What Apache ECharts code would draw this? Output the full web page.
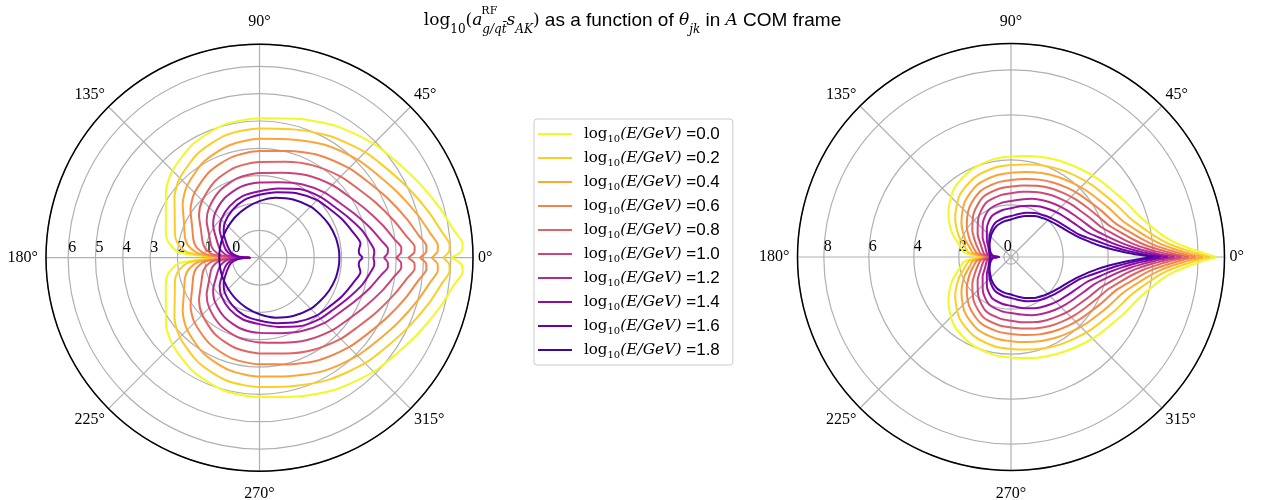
<!DOCTYPE html>
<html><head><meta charset="utf-8">
<script src="https://cdn.jsdelivr.net/npm/echarts@6/dist/echarts.min.js"></script>
<style>html,body{margin:0;padding:0;background:#fff}#c{width:1265px;height:500px}</style>
</head><body><div id="c"></div>
<script>
// ---- data ----
const energyLabels = ['0.0','0.2','0.4','0.6','0.8','1.0','1.2','1.4','1.6','1.8'];
const curveColors = ['#f0f921','#fcce25','#fca636','#f2844b','#e16462','#cc4778','#b12a90','#8f0da4','#6a00a8','#41049d'];

// left panel: theta (deg, upper half; curves are mirror-symmetric) and radius values
const leftAngles = [0,1,2,4,8,15,25,35,45,60,75,90,105,120,135,145,155,165,170,174,176,178,179,180];
const leftR00 = [6.0,6.25,6.4,6.45,6.18,5.86,5.45,5.12,4.9,4.57,4.26,4.10,4.03,3.82,3.50,3.18,2.78,2.55,2.40,2.15,1.98,1.3,0.3,-0.65];
const leftR02 = [5.72,5.85,5.95,5.97,5.74,5.42,5.01,4.68,4.46,4.14,3.86,3.73,3.65,3.44,3.12,2.80,2.42,2.2,2.04,1.8,1.6,1.0,0.2,-0.65];
const leftR04 = [5.3,5.42,5.52,5.54,5.32,5.0,4.6,4.28,4.07,3.77,3.48,3.35,3.26,3.06,2.74,2.43,2.05,1.82,1.66,1.42,1.25,0.8,0.1,-0.65];
const leftR06 = [4.87,5.0,5.1,5.12,4.88,4.56,4.16,3.84,3.63,3.33,3.04,2.9,2.82,2.64,2.36,2.08,1.72,1.5,1.36,1.15,1.0,0.6,0.0,-0.65];
const leftR08 = [4.44,4.57,4.67,4.69,4.45,4.12,3.72,3.4,3.2,2.9,2.63,2.5,2.42,2.24,1.96,1.7,1.36,1.15,1.02,0.84,0.7,0.35,-0.1,-0.65];
const leftR10 = [4.0,4.1,4.18,4.2,3.97,3.65,3.25,2.95,2.76,2.48,2.22,2.1,2.02,1.86,1.6,1.36,1.04,0.84,0.72,0.56,0.44,0.15,-0.2,-0.65];
const leftR12 = [3.55,3.63,3.69,3.71,3.5,3.2,2.82,2.54,2.37,2.1,1.86,1.75,1.68,1.53,1.3,1.07,0.76,0.54,0.42,0.28,0.18,-0.05,-0.3,-0.65];
const leftR14 = [3.17,3.18,3.2,3.2,3.08,2.88,2.55,2.3,2.15,1.9,1.62,1.43,1.34,1.18,0.98,0.78,0.5,0.3,0.18,0.05,-0.05,-0.25,-0.4,-0.65];
const leftR16 = [2.77,2.72,2.66,2.64,2.73,2.55,2.33,2.12,1.98,1.72,1.48,1.30,1.18,1.0,0.8,0.6,0.35,0.15,0.05,-0.1,-0.2,-0.35,-0.45,-0.65];
const leftR18 = [1.92,1.92,1.92,1.92,1.91,1.885,1.82,1.73,1.645,1.46,1.27,1.07,0.89,0.74,0.62,0.56,0.52,0.49,0.48,0.475,0.47,0.47,0.47,0.47];

// right panel
const rightAngles = [0,1,2,3,5,8,13,18,26,34,42,50,60,70,80,90,100,115,130,145,158,168,174,177,179,180];
const rightR00 = [8.82,8.3,7.9,7.55,7.0,6.5,6.0,5.65,5.32,5.05,4.87,4.7,4.52,4.37,4.24,4.15,4.1,3.93,3.63,3.08,2.5,2.0,1.8,1.4,0.8,0.22];
const rightR02 = [8.51,7.97,7.57,7.22,6.67,6.17,5.63,5.25,4.92,4.66,4.49,4.32,4.15,4.0,3.86,3.77,3.72,3.56,3.24,2.71,2.18,1.76,1.58,1.22,0.7,0.22];
const rightR04 = [8.2,7.65,7.23,6.88,6.35,5.85,5.29,4.89,4.56,4.31,4.13,3.97,3.8,3.65,3.52,3.42,3.37,3.22,2.88,2.37,1.9,1.54,1.38,1.05,0.6,0.22];
const rightR06 = [7.89,7.32,6.9,6.55,6.02,5.52,4.96,4.55,4.23,3.98,3.81,3.66,3.49,3.34,3.2,3.1,3.05,2.91,2.56,2.08,1.65,1.35,1.2,0.92,0.52,0.22];
const rightR08 = [7.58,6.99,6.57,6.22,5.69,5.19,4.64,4.25,3.92,3.69,3.52,3.37,3.21,3.05,2.91,2.81,2.76,2.62,2.25,1.78,1.38,1.15,1.03,0.8,0.45,0.22];
const rightR10 = [7.27,6.66,6.23,5.88,5.36,4.86,4.32,3.93,3.61,3.38,3.22,3.07,2.91,2.76,2.62,2.51,2.46,2.33,1.94,1.49,1.13,0.96,0.86,0.68,0.4,0.22];
const rightR12 = [6.96,6.33,5.9,5.55,5.03,4.53,3.97,3.58,3.26,3.04,2.88,2.74,2.58,2.43,2.28,2.17,2.12,2.0,1.63,1.22,0.92,0.8,0.72,0.58,0.36,0.22];
const rightR14 = [6.65,6.0,5.57,5.22,4.7,4.2,3.64,3.24,2.92,2.71,2.56,2.42,2.27,2.11,1.97,1.85,1.8,1.69,1.35,0.99,0.76,0.68,0.6,0.5,0.33,0.22];
const rightR16 = [6.33,5.68,5.23,4.88,4.38,3.88,3.29,2.88,2.56,2.35,2.2,2.07,1.93,1.77,1.62,1.50,1.45,1.35,1.11,0.87,0.7,0.6,0.52,0.45,0.32,0.22];
const rightR18 = [6.01,5.35,4.9,4.55,4.05,3.55,3.05,2.72,2.4,2.2,2.05,1.92,1.78,1.62,1.47,1.35,1.3,1.2,1.02,0.83,0.72,0.65,0.62,0.61,0.61,0.61];

const leftCurves = [leftR00,leftR02,leftR04,leftR06,leftR08,leftR10,leftR12,leftR14,leftR16,leftR18];
const rightCurves = [rightR00,rightR02,rightR04,rightR06,rightR08,rightR10,rightR12,rightR14,rightR16,rightR18];

// radial axis ranges (centre value, outer value)
const leftRadiusRange = [-1, 6.81];
const rightRadiusRange = [-0.32, 9.17];

// ---- build closed, mirror-symmetric polylines; angle axis starts at 180deg ----
function closedCurve(angles, radii) {
  const pts = [];
  for (let i = 0; i < angles.length; i++) pts.push([radii[i], 180 + angles[i]]);
  for (let i = angles.length - 1; i >= 0; i--) pts.push([radii[i], 180 - angles[i]]);
  return pts;
}

const serifFont = 'Liberation Serif';
const mathFont = 'DejaVu Serif';
const sansFont = 'Liberation Sans';

function angleLabel(v) {
  if (v >= 360) return '';
  const a = (v + 180) % 360;
  if (a === 90) return '{up|90°}';
  if (a === 270) return '{dn|270°}';
  if (a === 180) return '{w|180°}';
  return '{n|' + a + '°}';
}
const angleRich = {
  n: {fontFamily: serifFont, fontSize: 16, color: '#000'},
  up: {fontFamily: serifFont, fontSize: 16, color: '#000', padding: [0, 0, 9, 0]},
  dn: {fontFamily: serifFont, fontSize: 16, color: '#000', padding: [10, 0, 0, 0]},
  w: {fontFamily: serifFont, fontSize: 16, color: '#000', padding: [0, 3, 0, 0]}
};

function angleAxisFor(idx) {
  return {
    polarIndex: idx, type: 'value', min: 0, max: 360, interval: 45,
    startAngle: 180, clockwise: false,
    axisLine: {show: true, lineStyle: {color: '#000', width: 1.5}},
    axisTick: {show: false},
    splitLine: {show: true, lineStyle: {color: '#b0b0b0', width: 1.2}},
    axisLabel: {show: true, margin: 5, color: '#000', formatter: angleLabel, rich: angleRich}
  };
}

const radiusLabelStyle = {
  show: true, color: '#000', fontFamily: serifFont, fontSize: 16,
  margin: -2, verticalAlign: 'bottom', padding: [0, 0, 0, 8]
};

const series = [];
energyLabels.forEach((name, k) => {
  series.push({
    name, type: 'line', coordinateSystem: 'polar', polarIndex: 0,
    data: closedCurve(leftAngles, leftCurves[k]), symbol: 'none', showSymbol: false,
    smooth: 0.25, clip: false, animation: false,
    lineStyle: {color: curveColors[k], width: 2}, itemStyle: {color: curveColors[k]}
  });
  series.push({
    name, type: 'line', coordinateSystem: 'polar', polarIndex: 1,
    data: closedCurve(rightAngles, rightCurves[k]), symbol: 'none', showSymbol: false,
    smooth: 0.25, clip: false, animation: false,
    lineStyle: {color: curveColors[k], width: 2}, itemStyle: {color: curveColors[k]}
  });
});

const chart = echarts.init(document.getElementById('c'), null, {renderer: 'canvas'});
chart.setOption({
  backgroundColor: '#fff',
  animation: false,
  title: {
    left: 'center', top: 1,
    text: '{m|log}{s|10}{m|(}{i|a}{sup|    RF}{sub|g/qt̄}{i|s}{sub|AK}{m|)}{t| as a function of }{i|θ}{sub|jk}{t| in }{i|A}{t| COM frame}',
    textStyle: {
      fontWeight: 'normal',
      rich: {
        m: {fontFamily: mathFont, fontWeight: 'normal', fontSize: 17, color: '#000', lineHeight: 30},
        i: {fontFamily: mathFont, fontStyle: 'italic', fontWeight: 'normal', fontSize: 17, color: '#000', lineHeight: 30},
        s: {fontFamily: mathFont, fontWeight: 'normal', fontSize: 12, color: '#000', lineHeight: 18, verticalAlign: 'bottom'},
        sub: {fontFamily: mathFont, fontStyle: 'italic', fontWeight: 'normal', fontSize: 12, color: '#000', lineHeight: 18, verticalAlign: 'bottom'},
        sup: {fontFamily: mathFont, fontWeight: 'normal', fontSize: 11, color: '#000', lineHeight: 16, verticalAlign: 'top', width: 0},
        t: {fontFamily: sansFont, fontWeight: 'normal', fontSize: 19, color: '#000', lineHeight: 30}
      }
    }
  },
  legend: {
    orient: 'vertical', left: 534, top: 119,
    padding: [5, 13, 5, 4], itemWidth: 34, itemHeight: 2, itemGap: 4,
    icon: 'rect',
    borderColor: '#cccccc', borderWidth: 1, borderRadius: 3,
    backgroundColor: 'rgba(255,255,255,0.8)',
    data: energyLabels,
    formatter: n => '{l|log}{s|10}{m|(E/GeV)}{n| =' + n + '}',
    textStyle: {
      lineHeight: 20,
      rich: {
        l: {fontFamily: mathFont, fontSize: 15, color: '#000', lineHeight: 20, padding: [0, 0, 0, 7]},
        s: {fontFamily: mathFont, fontSize: 10, color: '#000', lineHeight: 14, verticalAlign: 'bottom'},
        m: {fontFamily: mathFont, fontStyle: 'italic', fontSize: 15.5, color: '#000', lineHeight: 20},
        n: {fontFamily: sansFont, fontSize: 17, color: '#000', lineHeight: 20}
      }
    }
  },
  polar: [
    {center: [259.5, 257.7], radius: 213.5},
    {center: [1011, 257], radius: 213.5}
  ],
  angleAxis: [angleAxisFor(0), angleAxisFor(1)],
  radiusAxis: [
    {
      polarIndex: 0, type: 'value', min: leftRadiusRange[0], max: leftRadiusRange[1], interval: 1,
      axisLine: {show: false}, axisTick: {show: false},
      splitLine: {show: true, lineStyle: {color: '#b0b0b0', width: 1.2}},
      axisLabel: Object.assign({}, radiusLabelStyle, {
        formatter: v => (v >= 0 && Math.abs(v - Math.round(v)) < 1e-6) ? String(Math.round(v)) : ''
      })
    },
    {
      polarIndex: 1, type: 'value', min: rightRadiusRange[0], max: rightRadiusRange[1],
      splitNumber: 5, minInterval: 2, maxInterval: 2,
      axisLine: {show: false}, axisTick: {show: false},
      splitLine: {show: true, lineStyle: {color: '#b0b0b0', width: 1.2}},
      axisLabel: Object.assign({}, radiusLabelStyle, {
        formatter: v => (v > -0.01 && Math.abs(v / 2 - Math.round(v / 2)) < 1e-6) ? String(Math.round(v) + 0) : ''
      })
    }
  ],
  series
});
</script></body></html>
